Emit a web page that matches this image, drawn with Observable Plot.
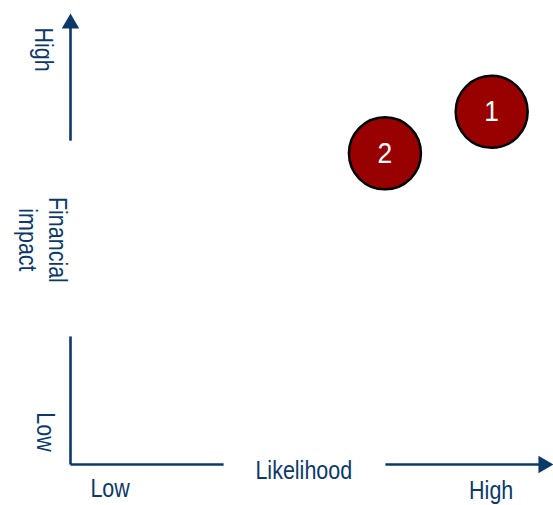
<!DOCTYPE html>
<html>
<head>
<meta charset="utf-8">
<script src="https://cdn.jsdelivr.net/npm/d3@7"></script>
<script src="https://cdn.jsdelivr.net/npm/@observablehq/plot@0.6"></script>
<style>
  html, body { margin: 0; padding: 0; background: #ffffff; }
  #chart svg { display: block; }
</style>
</head>
<body>
<div id="chart"></div>
<script>
// Risks: id, likelihood (0-100), financial impact (0-100)
const riskIds = ["1", "2"];
const riskLikelihood = [87.2, 65.1];
const riskImpact = [78.2, 69.0];

// Axis segments (broken around the axis titles), in data units
const axisX1 = [0, 0, 0, 65.2];
const axisY1 = [0, 71.8, 0, 0];
const axisX2 = [0, 0, 31.7, 97];
const axisY2 = [28.4, 97, 0, 0];

// Axis texts
const labelText = ["Low", "High", "Likelihood", "High", "Low", "Financial\nimpact"];
const labelX = [8.2, 87.1, 48.3, -5.4, -4.9, -5.5];
const labelY = [-5.1, -5.5, -1.1, 92.0, 7.2, 49.8];
const labelRotate = [0, 0, 0, 90, 90, 90];

const navy = "#0b3a6a";
const font = "'Liberation Sans Narrow', 'Arial Narrow', 'Liberation Sans', Arial, sans-serif";

const risks = riskIds.map((id, i) => ({id, x: riskLikelihood[i], y: riskImpact[i]}));
const segments = axisX1.map((_, i) => ({x1: axisX1[i], y1: axisY1[i], x2: axisX2[i], y2: axisY2[i]}));
const labels = labelText.map((t, i) => ({t, x: labelX[i], y: labelY[i], r: labelRotate[i]}));

const chart = Plot.plot({
  width: 553,
  height: 505,
  marginLeft: 70,
  marginRight: 0,
  marginTop: 13,
  marginBottom: 41,
  x: {domain: [0, 100], axis: null},
  y: {domain: [0, 100], axis: null},
  style: {background: "#ffffff", overflow: "visible", fontFamily: font},
  marks: [
    Plot.link(segments, {x1: "x1", y1: "y1", x2: "x2", y2: "y2", stroke: navy, strokeWidth: 2.6}),
    // arrowheads at the axis ends
    Plot.dot([{x: 0, y: 100}], {x: "x", y: "y", symbol: "triangle", r: 6.5, fill: navy, stroke: "none", dy: 10}),
    Plot.dot([{x: 100, y: 0}], {x: "x", y: "y", symbol: "triangle", r: 6.5, fill: navy, stroke: "none", rotate: 90, dx: -10}),
    Plot.text(labels, {x: "x", y: "y", text: "t", rotate: "r", fill: navy, fontSize: 25, lineHeight: 1.2, textAnchor: "middle", lineAnchor: "middle"}),
    Plot.dot(risks, {x: "x", y: "y", r: 36, fill: "#990000", stroke: "#000000", strokeWidth: 2.5}),
    Plot.text(risks, {x: "x", y: "y", text: "id", fill: "#ffffff", fontSize: 30, lineAnchor: "middle"})
  ]
});
// The reference uses a condensed face; narrow the axis texts along their reading direction.
const textGroups = chart.querySelectorAll('g[aria-label="text"]');
textGroups[0].querySelectorAll("text").forEach((el) => {
  const t = el.getAttribute("transform") || "";
  el.setAttribute("transform", t + " scale(0.86,1)");
});
textGroups[1].querySelectorAll("text").forEach((el) => {
  const t = el.getAttribute("transform") || "";
  el.setAttribute("transform", t + " scale(0.88,1)");
});
document.getElementById("chart").appendChild(chart);
</script>
</body>
</html>
